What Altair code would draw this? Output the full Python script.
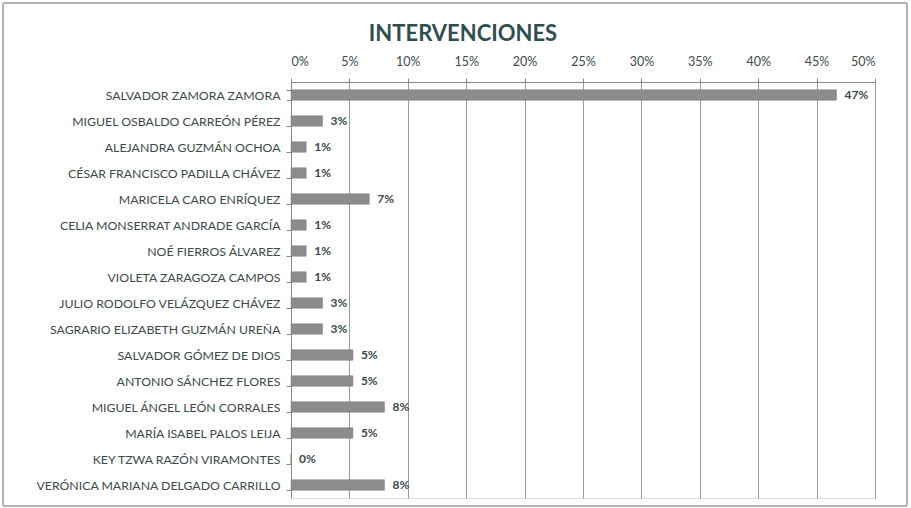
import altair as alt
import pandas as pd

nombres = [
    "SALVADOR ZAMORA ZAMORA",
    "MIGUEL OSBALDO CARREÓN PÉREZ",
    "ALEJANDRA GUZMÁN OCHOA",
    "CÉSAR FRANCISCO PADILLA CHÁVEZ",
    "MARICELA CARO ENRÍQUEZ",
    "CELIA MONSERRAT ANDRADE GARCÍA",
    "NOÉ FIERROS ÁLVAREZ",
    "VIOLETA ZARAGOZA CAMPOS",
    "JULIO RODOLFO VELÁZQUEZ CHÁVEZ",
    "SAGRARIO ELIZABETH GUZMÁN UREÑA",
    "SALVADOR GÓMEZ DE DIOS",
    "ANTONIO SÁNCHEZ FLORES",
    "MIGUEL ÁNGEL LEÓN CORRALES",
    "MARÍA ISABEL PALOS LEIJA",
    "KEY TZWA RAZÓN VIRAMONTES",
    "VERÓNICA MARIANA DELGADO CARRILLO",
]
porcentajes = [0.467, 0.027, 0.013, 0.013, 0.067, 0.013, 0.013, 0.013,
               0.027, 0.027, 0.053, 0.053, 0.080, 0.053, 0.0, 0.080]
x_ticks = [0, 0.05, 0.10, 0.15, 0.20, 0.25, 0.30, 0.35, 0.40, 0.45, 0.50]

df = pd.DataFrame({"nombre": nombres, "pct": porcentajes})

TXT = "#3b4a4a"
W, H = 584, 416

y_enc = alt.Y("nombre:N", sort=nombres, title=None,
              scale=alt.Scale(paddingInner=0.6, paddingOuter=0.3),
              axis=alt.Axis(labelFont="Lato", labelFontSize=12.3, labelColor=TXT,
                            labelPadding=6, tickBand="extent", tickSize=5,
                            tickColor="#888888", domainColor="#888888",
                            labelLimit=300))
x_enc = alt.X("pct:Q", title=None,
              scale=alt.Scale(domain=[0, 0.5], nice=False),
              axis=alt.Axis(orient="top", format=".0%", values=x_ticks,
                            labelFont="Lato", labelFontSize=12.5, labelColor=TXT,
                            labelPadding=10, tickSize=4, tickColor="#888888",
                            domainColor="#888888", grid=True,
                            gridColor="#9a9a9a", gridWidth=1))

bars = alt.Chart(df).mark_bar(color="#8c8c8c", stroke="#777777", strokeWidth=0.5).encode(
    x=x_enc, y=y_enc)

labels = alt.Chart(df).mark_text(align="left", dx=8, font="Lato", fontSize=12,
                                 fontWeight="bold", color=TXT).encode(
    x="pct:Q", y=alt.Y("nombre:N", sort=nombres),
    text=alt.Text("pct:Q", format=".0%"))

frame = alt.Chart(df).mark_rect(fill=None, stroke="#b5b5b5", strokeWidth=1).encode(
    x=alt.value(-288), x2=alt.value(W + 32), y=alt.value(-79), y2=alt.value(H + 8))

chart = alt.layer(frame, bars, labels).properties(
    width=W, height=H,
    padding={"left": 291, "top": 82, "right": 36, "bottom": 10},
    autosize=alt.AutoSizeParams(type="none"),
    title=alt.TitleParams("INTERVENCIONES", font="Lato", fontSize=22, fontWeight="bold",
                          color="#2f4f4f", anchor="middle", frame="bounds",
                          offset=8, dx=8, dy=51),
).configure_view(stroke=None).configure(background="white")

chart.save("out.html", embed_options={"renderer": "svg", "actions": False})
